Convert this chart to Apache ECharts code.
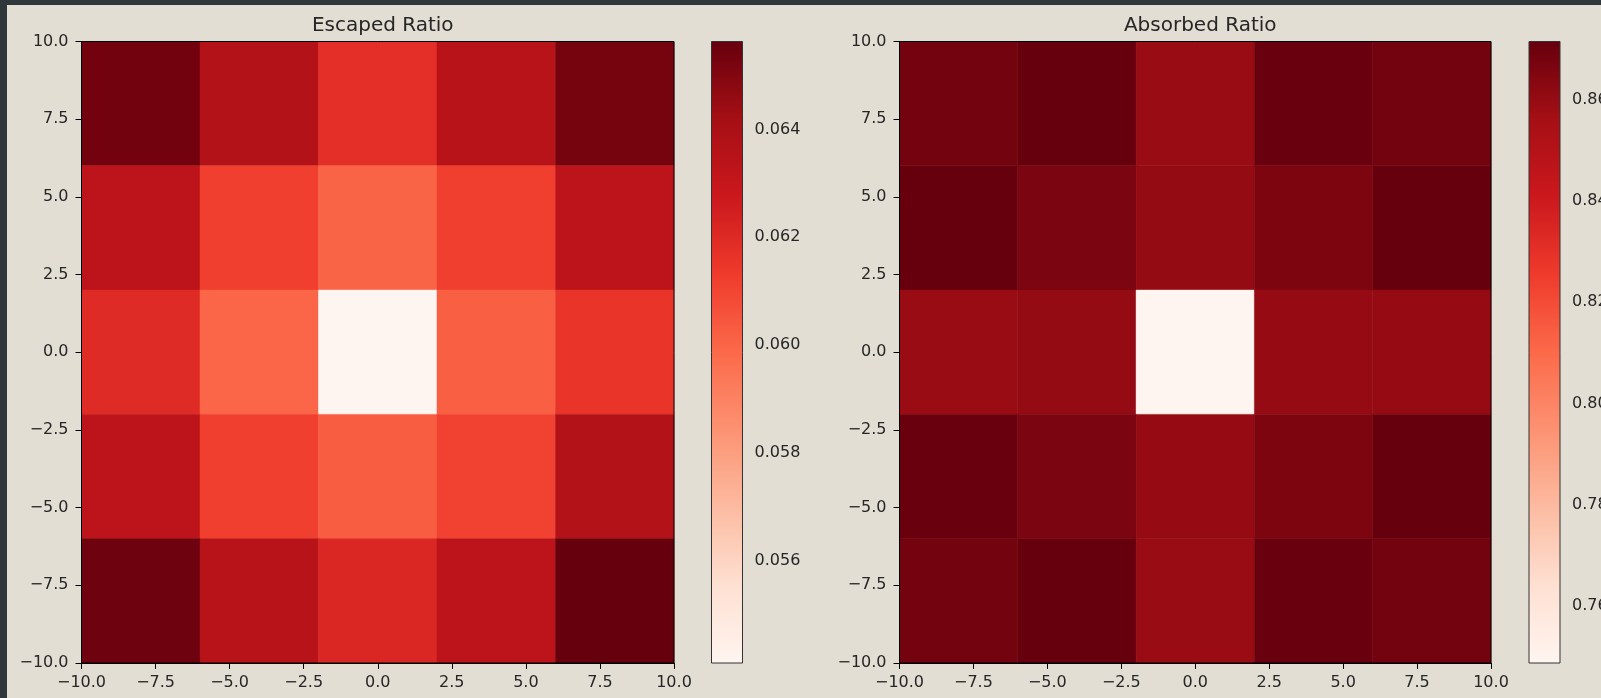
<!DOCTYPE html>
<html>
<head>
<meta charset="utf-8">
<script src="https://cdn.jsdelivr.net/npm/echarts@6/dist/echarts.min.js"></script>
<style>
  html, body { margin: 0; padding: 0; width: 1601px; height: 698px; background: #30373a; overflow: hidden; }
  #chart { position: absolute; left: 7px; top: 5px; width: 1594px; height: 693px; background: #e3ded3; }
</style>
</head>
<body>
<div id="chart"></div>
<script>
// Bin edges of the 5x5 grid (x and y), and axis tick values
const xEdges = [-10, -6, -2, 2, 6, 10];
const yEdges = [-10, -6, -2, 2, 6, 10];
const axisTicks = [-10, -7.5, -5, -2.5, 0, 2.5, 5, 7.5, 10];

// Escaped ratio, rows listed from top (y 6..10) to bottom (y -10..-6)
const escapedRows = [
  [0.06538, 0.06370, 0.06179, 0.06347, 0.06528],
  [0.06333, 0.06118, 0.06005, 0.06118, 0.06333],
  [0.06195, 0.05999, 0.05411, 0.06020, 0.06155],
  [0.06333, 0.06120, 0.06027, 0.06113, 0.06370],
  [0.06547, 0.06350, 0.06215, 0.06333, 0.06563]
];
// Absorbed ratio, same layout
const absorbedRows = [
  [0.8686, 0.8715, 0.8591, 0.8712, 0.8686],
  [0.8714, 0.8666, 0.8604, 0.8660, 0.8715],
  [0.8591, 0.8604, 0.7487, 0.8598, 0.8598],
  [0.8713, 0.8666, 0.8598, 0.8660, 0.8715],
  [0.8686, 0.8714, 0.8591, 0.8713, 0.8686]
];
// Colorbar tick labels
const escapedBarTicks = [0.056, 0.058, 0.060, 0.062, 0.064];
const absorbedBarTicks = [0.76, 0.78, 0.80, 0.82, 0.84, 0.86];

const titles = ['Escaped Ratio', 'Absorbed Ratio'];

// matplotlib "Reds" colormap
const reds = ['#fff5f0', '#fee0d2', '#fcbba1', '#fc9272', '#fb6a4a', '#ef3b2c', '#cb181d', '#a50f15', '#67000d'];

function toCells(rows) {
  const out = [];
  const n = rows.length;
  for (let r = 0; r < n; r++) {
    const yi = n - 1 - r; // row 0 is top
    for (let c = 0; c < rows[r].length; c++) {
      out.push([xEdges[c], xEdges[c + 1], yEdges[yi], yEdges[yi + 1], rows[r][c]]);
    }
  }
  return out;
}
function flat(rows) { return rows.reduce((a, r) => a.concat(r), []); }

const escMin = Math.min(...flat(escapedRows)), escMax = Math.max(...flat(escapedRows));
const absMin = Math.min(...flat(absorbedRows)), absMax = Math.max(...flat(absorbedRows));

const FONT = 'DejaVu Sans';
const TXT = '#262626';
const minus = v => String(v).replace('-', '\u2212');
const fmt1 = v => minus(Number(v).toFixed(1));

function cellRender(params, api) {
  const p1 = api.coord([api.value(0), api.value(3)]);
  const p2 = api.coord([api.value(1), api.value(2)]);
  return {
    type: 'rect',
    shape: { x: p1[0], y: p1[1], width: p2[0] - p1[0], height: p2[1] - p1[1] },
    style: { fill: api.visual('color'), stroke: api.visual('color'), lineWidth: 0.5 }
  };
}
function barRender(params, api) {
  const p1 = api.coord([0, api.value(2)]);
  const p2 = api.coord([1, api.value(1)]);
  const stops = reds.map((c, i) => ({ offset: i / (reds.length - 1), color: c }));
  return {
    type: 'rect',
    shape: { x: p1[0], y: p1[1], width: p2[0] - p1[0], height: p2[1] - p1[1] },
    style: { fill: new echarts.graphic.LinearGradient(0, 1, 0, 0, stops) }
  };
}

const plots = [
  { left: 74.5, width: 592.5, barLeft: 704.5 },
  { left: 892.5, width: 591.5, barLeft: 1522 }
];
const TOP = 36.5, HEIGHT = 621.5, BARW = 31;

const grids = [], xAxes = [], yAxes = [], series = [], visualMaps = [], titleOpts = [];
const datasets = [toCells(escapedRows), toCells(absorbedRows)];
const ranges = [[escMin, escMax], [absMin, absMax]];
const barTicks = [escapedBarTicks, absorbedBarTicks];
const barFmt = [v => Number(v).toFixed(3), v => Number(v).toFixed(2)];

plots.forEach((p, k) => {
  // main heatmap grid
  grids.push({ left: p.left, top: TOP, width: p.width, height: HEIGHT, show: true,
    borderColor: '#000', borderWidth: 1, backgroundColor: 'transparent', outerBoundsMode: 'none', containLabel: false, z: 5 });
  const gi = grids.length - 1;
  const axisCommon = {
    type: 'value', min: -10, max: 10, interval: 2.5, gridIndex: gi,
    axisLine: { show: true, onZero: false, lineStyle: { color: '#000', width: 1 } },
    axisTick: { show: true, inside: false, length: 6, lineStyle: { color: '#000', width: 1 } },
    splitLine: { show: false },
    axisLabel: { color: TXT, fontFamily: FONT, fontSize: 16, margin: 12, formatter: fmt1, showMinLabel: true, showMaxLabel: true, hideOverlap: false }
  };
  xAxes.push(Object.assign({}, axisCommon, { position: 'bottom' }));
  yAxes.push(Object.assign({}, axisCommon, { position: 'left', axisLabel: Object.assign({}, axisCommon.axisLabel, { margin: 13 }) }));
  series.push({ type: 'custom', xAxisIndex: xAxes.length - 1, yAxisIndex: yAxes.length - 1,
    renderItem: cellRender, data: datasets[k], encode: { x: [0, 1], y: [2, 3] }, clip: true, silent: true });
  visualMaps.push({ type: 'continuous', show: false, seriesIndex: series.length - 1, dimension: 4,
    min: ranges[k][0], max: ranges[k][1], inRange: { color: reds } });

  // colorbar grid
  grids.push({ left: p.barLeft, top: TOP, width: BARW, height: HEIGHT, show: true,
    borderColor: '#333', borderWidth: 1, backgroundColor: 'transparent', outerBoundsMode: 'none', containLabel: false, z: 5 });
  const bi = grids.length - 1;
  xAxes.push({ type: 'value', gridIndex: bi, min: 0, max: 1, show: false });
  yAxes.push({ type: 'value', gridIndex: bi, min: ranges[k][0], max: ranges[k][1], position: 'right',
    axisLine: { show: false },
    splitLine: { show: false },
    axisTick: { show: true, inside: false, length: 6, customValues: barTicks[k], lineStyle: { color: '#262626', width: 1 } },
    axisLabel: { color: TXT, fontFamily: FONT, fontSize: 16, margin: 12, customValues: barTicks[k], formatter: barFmt[k] }
  });
  series.push({ type: 'custom', xAxisIndex: xAxes.length - 1, yAxisIndex: yAxes.length - 1,
    renderItem: barRender, data: [[0, ranges[k][0], ranges[k][1]]], encode: { x: 0, y: [1, 2] }, silent: true });

  titleOpts.push({ text: titles[k], left: p.left + p.width / 2, top: 6, textAlign: 'center',
    textStyle: { fontFamily: FONT, fontSize: 20, fontWeight: 'normal', color: TXT } });
});

const chart = echarts.init(document.getElementById('chart'), null, { renderer: 'canvas' });
chart.setOption({
  backgroundColor: '#e3ded3',
  animation: false,
  title: titleOpts,
  grid: grids,
  xAxis: xAxes,
  yAxis: yAxes,
  visualMap: visualMaps,
  series: series
});
</script>
</body>
</html>
